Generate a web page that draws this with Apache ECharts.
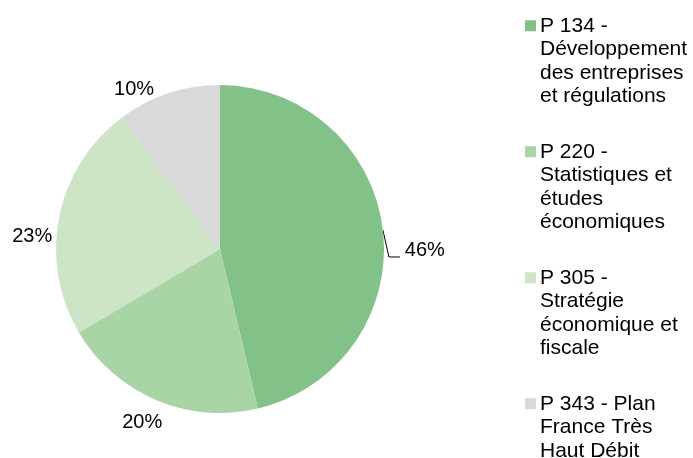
<!DOCTYPE html>
<html>
<head>
<meta charset="utf-8">
<script src="https://cdn.jsdelivr.net/npm/echarts@6/dist/echarts.min.js"></script>
<style>
  html, body { margin: 0; padding: 0; background: #fff; }
  #chart { width: 693px; height: 458px; }
</style>
</head>
<body>
<div id="chart"></div>
<script>
const categories = [
  'P 134 -\nDéveloppement\ndes entreprises\net régulations',
  'P 220 -\nStatistiques et\nétudes\néconomiques',
  'P 305 -\nStratégie\néconomique et\nfiscale',
  'P 343 - Plan\nFrance Très\nHaut Débit',
];
const shares = [46.3, 20.2, 23.3, 10.2];
const colors = ['#82c288', '#a9d4a5', '#cde4c7', '#d9d9d9'];

// small nudges so labels sit where the original put them
const labelShift = [[5, 21], [21, 19], [10, 21], [0, 0]];

const rich = {
  g: { width: 15 },
  s: { width: 4 },
  t: { fontFamily: 'Liberation Sans', fontSize: 21, color: '#000', lineHeight: 23.5 },
};
colors.forEach((c, i) => {
  rich['m' + i] = { width: 11, height: 11, backgroundColor: c };
});

const chart = echarts.init(document.getElementById('chart'));
chart.setOption({
  animation: false,
  color: colors,
  legend: {
    orient: 'vertical',
    left: 520,
    top: 14,
    height: 520,
    padding: 0,
    icon: 'none',
    itemWidth: 0,
    itemHeight: 10,
    itemGap: 32,
    selectedMode: false,
    data: categories,
    formatter: (name) => {
      const idx = categories.indexOf(name);
      return name.split('\n')
        .map((line, i) => (i === 0 ? '{m' + idx + '|}{s|}' : '{g|}') + '{t|' + line + '}')
        .join('\n');
    },
    textStyle: {
      height: 94,
      lineHeight: 23.5,
      rich,
    },
  },
  series: [
    {
      type: 'pie',
      center: [220, 249],
      radius: 164,
      startAngle: 90,
      clockwise: true,
      avoidLabelOverlap: false,
      emphasis: { disabled: true },
      itemStyle: { borderWidth: 0 },
      label: {
        position: 'outside',
        fontFamily: 'Liberation Sans',
        fontSize: 20,
        color: '#000',
        formatter: (p) => Math.round(p.percent) + '%',
      },
      labelLine: {
        length: 4,
        length2: 8,
        lineStyle: { color: '#000', width: 1 },
      },
      labelLayout: (params) => {
        const [dx, dy] = labelShift[params.dataIndex];
        const out = { dx, dy };
        if (params.dataIndex === 0 && params.labelLinePoints) {
          const p0 = params.labelLinePoints[0];
          out.labelLinePoints = [
            [p0[0], p0[1]],
            [p0[0] + 6, p0[1] + 27],
            [p0[0] + 17, p0[1] + 27],
          ];
        }
        return out;
      },
      data: shares.map((v, i) => ({
        name: categories[i],
        value: v,
        labelLine: { show: i === 0 },
      })),
    },
  ],
});
</script>
</body>
</html>
